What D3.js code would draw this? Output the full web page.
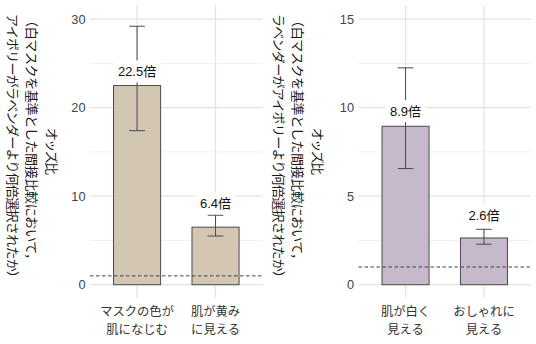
<!DOCTYPE html>
<html><head><meta charset="utf-8">
<script src="https://cdn.jsdelivr.net/npm/d3@7"></script>
<style>
html,body{margin:0;padding:0;background:#fff;}
svg{display:block;font-family:"Liberation Sans","Noto Sans CJK JP",Arial,sans-serif;}
</style></head>
<body><svg id="c" width="536" height="344"></svg>
<script>
// ---- data ----
const categories1 = [["マスクの色が","肌になじむ"],["肌が黄み","に見える"]];
const values1 = [22.5, 6.5];
const lower1 = [17.4, 5.5];
const upper1 = [29.2, 7.85];
const labels1 = ["22.5倍","6.4倍"];
const labelY1 = [24.1, 9.2];
const ticks1 = [0, 10, 20, 30];
const minorTicks1 = [5, 15, 25];
const title1 = ["オッズ比","（白マスクを基準とした間接比較において，","アイボリーがラベンダーより何倍選択されたか）"];

const categories2 = [["肌が白く","見える"],["おしゃれに","見える"]];
const values2 = [8.95, 2.64];
const lower2 = [6.56, 2.29];
const upper2 = [12.25, 3.13];
const labels2 = ["8.9倍","2.6倍"];
const labelY2 = [9.8, 3.93];
const ticks2 = [0, 5, 10, 15];
const minorTicks2 = [2.5, 7.5, 12.5];
const title2 = ["オッズ比","（白マスクを基準とした間接比較において，","ラベンダーがアイボリーより何倍選択されたか）"];

const refLine = 1;

const svg = d3.select("#c");

function panel(opt){
  const {x0, plotLeft, plotRight, domain, cats, vals, lo, hi, labs, labY, ticks, minor, title, fill} = opt;
  const top = 5, bottom = 298;
  const g = svg.append("g");
  const keys = cats.map(c => c.join(""));
  const x = d3.scaleBand().domain(keys).range([plotLeft, plotRight]).paddingInner(0.4).paddingOuter(0.3);
  const y = d3.scaleLinear().domain(domain).range([bottom, top]);
  const step = x.step();

  // grid
  g.append("g").selectAll("line").data(minor).join("line")
    .attr("x1", plotLeft).attr("x2", plotRight)
    .attr("y1", d => y(d)).attr("y2", d => y(d))
    .attr("stroke", "#ececec").attr("stroke-width", 0.8);
  g.append("g").selectAll("line").data(ticks).join("line")
    .attr("x1", plotLeft).attr("x2", plotRight)
    .attr("y1", d => y(d)).attr("y2", d => y(d))
    .attr("stroke", "#e3e3e3").attr("stroke-width", 1.2);
  g.append("g").selectAll("line").data(keys).join("line")
    .attr("x1", d => x(d) + x.bandwidth()/2).attr("x2", d => x(d) + x.bandwidth()/2)
    .attr("y1", top).attr("y2", bottom)
    .attr("stroke", "#e3e3e3").attr("stroke-width", 1.2);

  // y tick labels
  const yAxis = d3.axisLeft(y).tickValues(ticks).tickSize(0).tickPadding(4.5);
  const ya = g.append("g").attr("transform", `translate(${plotLeft},0)`).call(yAxis);
  ya.select(".domain").remove();
  ya.selectAll("text").attr("font-size", 12.8).attr("fill", "#444")
    .attr("font-family", "Liberation Sans, Arial, sans-serif");

  // x labels
  const xl = g.append("g");
  cats.forEach((c, i) => {
    const t = xl.append("text").attr("x", x(keys[i]) + x.bandwidth()/2)
      .attr("text-anchor", "middle").attr("font-size", 12.3).attr("fill", "#333")
      .attr("font-family", "Noto Sans CJK JP, sans-serif");
    c.forEach((s, j) => t.append("tspan").attr("x", x(keys[i]) + x.bandwidth()/2)
      .attr("y", 316 + j*17.5).text(s));
  });

  // bars
  g.append("g").selectAll("rect").data(vals).join("rect")
    .attr("x", (d,i) => x(keys[i])).attr("width", x.bandwidth())
    .attr("y", d => y(d)).attr("height", d => y(0) - y(d))
    .attr("fill", fill).attr("stroke", "#4a4a4a").attr("stroke-width", 1);

  // ref line
  g.append("line").attr("x1", plotLeft).attr("x2", plotRight)
    .attr("y1", y(refLine)).attr("y2", y(refLine))
    .attr("stroke", "#444").attr("stroke-width", 1).attr("stroke-dasharray", "3.5,2.5");

  // error bars
  const cap = step * 0.2;
  const eb = g.append("g").attr("stroke", "#4a4a4a").attr("stroke-width", 1);
  vals.forEach((v, i) => {
    const cx = x(keys[i]) + x.bandwidth()/2;
    eb.append("line").attr("x1", cx).attr("x2", cx).attr("y1", y(lo[i])).attr("y2", y(hi[i]));
    eb.append("line").attr("x1", cx - cap/2).attr("x2", cx + cap/2).attr("y1", y(lo[i])).attr("y2", y(lo[i]));
    eb.append("line").attr("x1", cx - cap/2).attr("x2", cx + cap/2).attr("y1", y(hi[i])).attr("y2", y(hi[i]));
  });

  // labels with white box
  labs.forEach((s, i) => {
    const cx = x(keys[i]) + x.bandwidth()/2;
    const cy = y(labY[i]);
    const lg = g.append("g");
    const rect = lg.append("rect").attr("fill", "#fff");
    const t = lg.append("text").attr("x", cx).attr("y", cy).attr("text-anchor", "middle")
      .attr("dominant-baseline", "central").attr("font-size", 13).attr("fill", "#111").text(s);
    const bb = t.node().getBBox();
    rect.attr("x", bb.x - 4.5).attr("y", cy - 11).attr("width", bb.width + 9).attr("height", 22);
  });

  // y title (rotated clockwise)
  const tx = [x0 + 52, x0 + 32.5, x0 + 13.5];
  const tLen = [47, 252, 270];
  title.forEach((s, i) => {
    const centered = i === 0;
    g.append("text")
      .attr("transform", `translate(${tx[i]},${centered ? (top+bottom)/2 : 14}) rotate(90)`)
      .attr("text-anchor", centered ? "middle" : "start").attr("dominant-baseline", "central")
      .attr("font-size", 13).attr("fill", "#1a1a1a")
      .attr("textLength", tLen[i]).attr("lengthAdjust", "spacing")
      .attr("font-family", "Noto Sans CJK JP, sans-serif").text(s);
  });
}

panel({x0: 0, plotLeft: 90, plotRight: 262.6, domain: [-1.5, 31.6],
  cats: categories1, vals: values1, lo: lower1, hi: upper1, labs: labels1, labY: labelY1,
  ticks: ticks1, minor: minorTicks1, title: title1, fill: "#d3c7b4"});
panel({x0: 266, plotLeft: 358.5, plotRight: 531, domain: [-0.75, 15.8],
  cats: categories2, vals: values2, lo: lower2, hi: upper2, labs: labels2, labY: labelY2,
  ticks: ticks2, minor: minorTicks2, title: title2, fill: "#c5b9cb"});
</script></body></html>
